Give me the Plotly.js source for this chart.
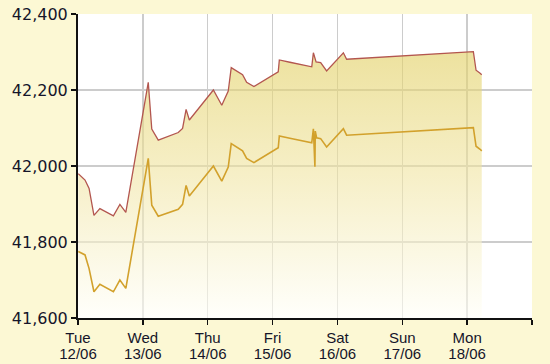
<!DOCTYPE html>
<html>
<head>
<meta charset="utf-8">
<script src="https://cdn.plot.ly/plotly-3.0.1.min.js"></script>
<style>html,body{margin:0;padding:0;background:#FCF8D4;}#chart{width:550px;height:364px;}</style>
</head>
<body>
<div id="chart"></div>
<script>
// Upper series (sell price)
const topTimes = [
  '2018-06-12 00:06','2018-06-12 02:36','2018-06-12 04:06','2018-06-12 05:54','2018-06-12 08:06',
  '2018-06-12 13:06','2018-06-12 15:30','2018-06-12 17:42',
  '2018-06-13 02:00','2018-06-13 03:18','2018-06-13 05:42','2018-06-13 13:06','2018-06-13 14:42',
  '2018-06-13 16:00','2018-06-13 17:12',
  '2018-06-14 02:06','2018-06-14 05:12','2018-06-14 07:36','2018-06-14 08:42','2018-06-14 12:54',
  '2018-06-14 14:24','2018-06-14 17:06',
  '2018-06-15 02:06','2018-06-15 02:30','2018-06-15 06:24','2018-06-15 14:30','2018-06-15 15:06',
  '2018-06-15 16:06','2018-06-15 17:48','2018-06-15 20:00',
  '2018-06-16 02:12','2018-06-16 03:24',
  '2018-06-18 02:18','2018-06-18 03:18','2018-06-18 04:48','2018-06-18 05:24'
];
const topValues = [
  41980, 41963, 41941, 41870, 41888,
  41869, 41899, 41878,
  42220, 42097, 42068, 42088, 42099,
  42149, 42121,
  42200, 42160, 42197, 42259, 42240,
  42220, 42209,
  42248, 42279, 42273, 42261, 42298,
  42274, 42272, 42250,
  42298, 42281,
  42301, 42252, 42244, 42240
];
// Lower series (buy price)
const lowTimes = [
  '2018-06-12 00:06','2018-06-12 02:36','2018-06-12 04:06','2018-06-12 05:54','2018-06-12 08:06',
  '2018-06-12 13:06','2018-06-12 15:30','2018-06-12 17:42',
  '2018-06-13 02:00','2018-06-13 03:18','2018-06-13 05:42','2018-06-13 13:06','2018-06-13 14:42',
  '2018-06-13 16:00','2018-06-13 17:12',
  '2018-06-14 02:06','2018-06-14 05:12','2018-06-14 07:36','2018-06-14 08:42','2018-06-14 12:54',
  '2018-06-14 14:24','2018-06-14 17:06',
  '2018-06-15 02:06','2018-06-15 02:30','2018-06-15 06:24','2018-06-15 14:30','2018-06-15 15:06',
  '2018-06-15 15:40','2018-06-15 15:48','2018-06-15 16:18','2018-06-15 17:48','2018-06-15 20:00',
  '2018-06-16 02:12','2018-06-16 03:24',
  '2018-06-18 02:18','2018-06-18 03:18','2018-06-18 04:48','2018-06-18 05:24'
];
const lowValues = [
  41775, 41766, 41730, 41669, 41689,
  41669, 41700, 41678,
  42020, 41897, 41868, 41886, 41899,
  41949, 41921,
  42000, 41960, 41997, 42059, 42040,
  42020, 42009,
  42048, 42079, 42073, 42061, 42098,
  41998, 42092, 42074, 42072, 42050,
  42098, 42081,
  42101, 42052, 42044, 42040
];
const tickDates = ['2018-06-12','2018-06-13','2018-06-14','2018-06-15','2018-06-16','2018-06-17','2018-06-18','2018-06-19'];
const dayLabels = ['Tue','Wed','Thu','Fri','Sat','Sun','Mon',''];
const dateLabels = ['12/06','13/06','14/06','15/06','16/06','17/06','18/06',''];
const yTickVals = [41600, 41800, 42000, 42200, 42400];

const xRange = ['2018-06-12 00:00','2018-06-19 00:00'];
const tickFontX = {family:'Liberation Sans, Arial, sans-serif', size:15, color:'#15152a'};

const traces = [
  {
    x: topTimes, y: topValues, type:'scatter', mode:'lines',
    line:{color:'#B3564F', width:1.3},
    fill:'tozeroy',
    fillgradient:{type:'vertical', start:41600, stop:42300,
      colorscale:[[0,'rgba(255,255,248,0.6)'],[0.55,'rgba(240,228,160,0.6)'],[1,'rgba(226,208,100,0.62)']]}
  },
  {
    x: lowTimes, y: lowValues, type:'scatter', mode:'lines',
    line:{color:'#D2A12C', width:1.6}
  },
  {
    // invisible copy bound to the secondary (date-label) axis so it renders
    x: lowTimes, y: lowValues, type:'scatter', mode:'lines', xaxis:'x2',
    line:{color:'rgba(0,0,0,0)', width:0}, opacity:0, hoverinfo:'skip'
  }
];

const layout = {
  width:550, height:364,
  margin:{l:78, r:18, t:14, b:46, pad:0},
  paper_bgcolor:'#FCF8D4', plot_bgcolor:'#FFFFFF',
  showlegend:false,
  xaxis:{
    type:'date', range:xRange, tickmode:'array', tickvals:tickDates, ticktext:dayLabels,
    showgrid:true, gridcolor:'#CCCCCC', gridwidth:1.5,
    showline:true, linecolor:'#111111', linewidth:2,
    ticks:'outside', ticklen:5, tickwidth:1.5, tickcolor:'#111111',
    tickfont:tickFontX, zeroline:false, fixedrange:true
  },
  xaxis2:{
    type:'date', overlaying:'x', side:'bottom', range:xRange, tickmode:'array',
    tickvals:tickDates, ticktext:dateLabels,
    showgrid:false, showline:false, zeroline:false,
    ticks:'outside', ticklen:6, tickcolor:'rgba(0,0,0,0)',
    ticklabelstandoff:16, tickfont:tickFontX, fixedrange:true
  },
  yaxis:{
    range:[41600, 42400], tickmode:'array', tickvals:yTickVals, tickformat:',d',
    showgrid:true, gridcolor:'#CCCCCC', gridwidth:1.5,
    showline:true, linecolor:'#111111', linewidth:2,
    ticks:'outside', ticklen:5, tickwidth:1.5, tickcolor:'#111111',
    tickfont:{family:'DejaVu Sans, Verdana, sans-serif', size:16, color:'#15152a'},
    zeroline:false, fixedrange:true
  }
};

Plotly.newPlot('chart', traces, layout, {staticPlot:true, displayModeBar:false});
</script>
</body>
</html>
